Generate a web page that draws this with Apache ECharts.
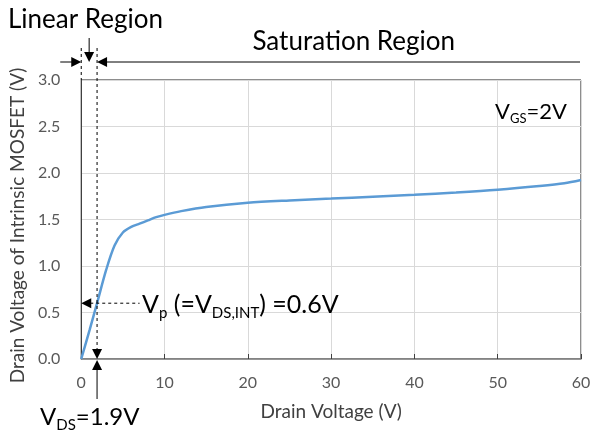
<!DOCTYPE html>
<html><head><meta charset="utf-8">
<script src="https://cdn.jsdelivr.net/npm/echarts@6/dist/echarts.min.js"></script>
<style>html,body{margin:0;padding:0;background:#fff}#c{width:594px;height:432px}</style>
</head><body><div id="c"></div>
<script>
// ---- data ----
const drainVoltage = [0, 1, 1.9, 3, 4, 5, 6, 7, 8, 9, 10, 12, 15, 20, 25, 30, 35, 40, 45, 50, 55, 58, 60];
const intrinsicVoltage = [0, 0.31, 0.6, 0.96, 1.22, 1.36, 1.42, 1.455, 1.49, 1.525, 1.55, 1.59, 1.635, 1.68, 1.705, 1.725, 1.745, 1.765, 1.79, 1.82, 1.86, 1.89, 1.925];
const xRange = [0, 60, 10];
const yRange = [0, 3, 0.5];
const pinchDrainVoltage = 1.9;
const pinchIntrinsicVoltage = 0.6;
const vpArrowEnd = 7;
const titles = ['Linear Region', 'Saturation Region'];

const FONT = 'Lato';
const chart = echarts.init(document.getElementById('c'), null, {renderer: 'canvas'});
chart.setOption({
  animation: false,
  grid: {left: 76, right: 13, top: 80, bottom: 73, show: true, borderColor: '#1a1a1a', borderWidth: 1},
  xAxis: {
    type: 'value', min: xRange[0], max: xRange[1], interval: xRange[2],
    axisLine: {lineStyle: {color: '#808080', width: 1.5}},
    axisTick: {show: true, inside: true, length: 5, lineStyle: {color: '#404040'}},
    axisLabel: {margin: 16, fontSize: 16, color: '#595959', fontFamily: FONT},
    splitLine: {lineStyle: {color: '#d9d9d9'}},
    name: 'Drain Voltage (V)', nameLocation: 'middle', nameGap: 43,
    nameTextStyle: {fontSize: 19, color: '#404040', fontFamily: FONT}
  },
  yAxis: {
    type: 'value', min: yRange[0], max: yRange[1], interval: yRange[2],
    axisLine: {show: true, lineStyle: {color: '#404040', width: 1}},
    axisTick: {show: false},
    axisLabel: {margin: 21, fontSize: 16, color: '#595959', fontFamily: FONT, formatter: v => v.toFixed(1)},
    splitLine: {lineStyle: {color: '#d9d9d9'}},
    name: 'Drain Voltage of Intrinsic MOSFET (V)', nameLocation: 'middle', nameGap: 46, nameRotate: 90,
    nameTextStyle: {fontSize: 19, color: '#404040', fontFamily: FONT, padding: [0, 12, 0, 0]}
  },
  series: [{
    type: 'line', data: drainVoltage.map((x, i) => [x, intrinsicVoltage[i]]),
    showSymbol: false, smooth: 0.3,
    lineStyle: {color: '#5B9BD5', width: 2.5}
  }]
});

const P = (x, y) => chart.convertToPixel({gridIndex: 0}, [x, y]);
const [x0, yBase] = P(0, 0);
const [x1, vpY] = P(pinchDrainVoltage, pinchIntrinsicVoltage);
const [xEnd, yTop] = P(xRange[1], yRange[1]);
const [xVpEnd] = P(vpArrowEnd, 0);

function head(tx, ty, dir) {
  const L = 10, W = 5;
  let pts;
  if (dir === 'right') pts = [[tx, ty], [tx - L, ty - W], [tx - L, ty + W]];
  if (dir === 'left') pts = [[tx, ty], [tx + L, ty - W], [tx + L, ty + W]];
  if (dir === 'down') pts = [[tx, ty], [tx - W, ty - L], [tx + W, ty - L]];
  if (dir === 'up') pts = [[tx, ty], [tx - W, ty + L], [tx + W, ty + L]];
  return {type: 'polygon', shape: {points: pts}, style: {fill: '#000'}, z: 100};
}
function line(xa, ya, xb, yb, dashed) {
  return {type: 'line', shape: {x1: xa, y1: ya, x2: xb, y2: yb},
    style: {stroke: '#000', lineWidth: 1, lineDash: dashed ? [3, 3] : null}, z: 100};
}
function txt(x, y, text, align, size, rich) {
  return {type: 'text', x: x, y: y, z: 100,
    style: {text: text, fill: '#000', font: size + 'px ' + FONT, align: align, verticalAlign: 'middle', rich: rich}};
}
function richSet(big, small, drop) {
  return {
    a: {fontSize: big, fontFamily: FONT, fill: '#000'},
    s: {fontSize: small, fontFamily: FONT, fill: '#000', padding: [drop, 0, 0, 0]}
  };
}
const arrowY = 62;
const midX = (x0 + x1) / 2;
chart.setOption({graphic: [
  txt(8, 20, titles[0], 'left', 26),
  txt(455, 42, titles[1], 'right', 26),
  line(x0 - 21, arrowY, x0 - 9, arrowY), head(x0, arrowY, 'right'),
  line(x1 + 9, arrowY, xEnd - 1, arrowY), head(x1, arrowY, 'left'),
  line(midX, 38, midX, arrowY - 9), head(midX, arrowY, 'down'),
  line(x0, 48, x0, yTop, true),
  line(x1, 48, x1, yBase - 10, true),
  head(x1, yBase, 'down'),
  head(x1, yBase + 1, 'up'), line(x1, yBase + 10, x1, yBase + 40),
  line(x0 + 9, vpY, xVpEnd, vpY, true), head(x0, vpY, 'left'),
  txt(142, 305, '{a|V}{s|p}{a| (=V}{s|DS,INT}{a|) =0.6V}', 'left', 25, richSet(25, 15, 16)),
  txt(495, 112, '{a|V}{s|GS}{a|=2V}', 'left', 22, richSet(22, 13, 14)),
  txt(40, 417, '{a|V}{s|DS}{a|=1.9V}', 'left', 24, richSet(24, 15, 16))
]});
</script>
</body></html>
